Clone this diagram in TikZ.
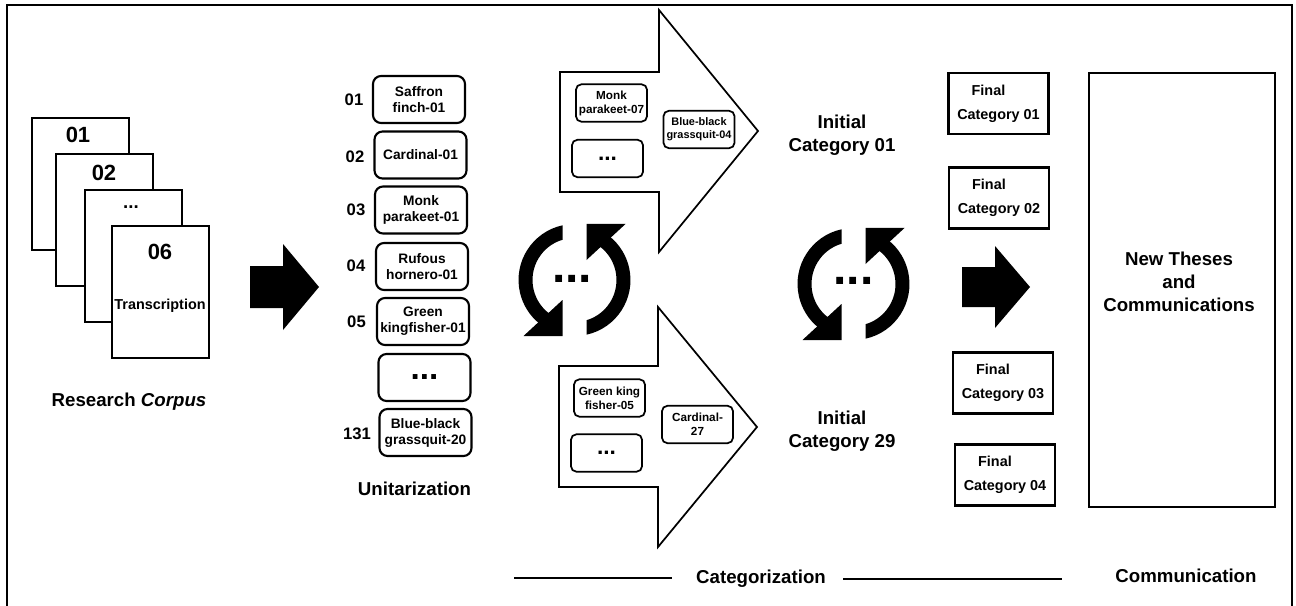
\documentclass[tikz,border=0pt]{standalone}
\usepackage{fontspec}
\setmainfont{Liberation Sans}
\usepackage{tikz}
\tikzstyle{frame} = [draw=black, line width=1.5pt]
\tikzstyle{doc} = [draw=black, fill=white, rectangle, line width=2pt, minimum width=72.75pt, minimum height=99pt]
\tikzstyle{docnum} = [font=\fontsize{16.5}{19}\selectfont\bfseries]
\tikzstyle{unit} = [align=center, draw=black, rectangle, rounded corners=6pt, line width=1.6pt, minimum width=69pt, minimum height=35.25pt, inner sep=1pt, font=\fontsize{10.3}{12}\selectfont\bfseries]
\tikzstyle{unitnum} = [font=\fontsize{12.5}{15}\selectfont\bfseries]
\tikzstyle{item} = [align=center, draw=black, fill=white, rectangle, rounded corners=4pt, line width=1.3pt, minimum width=53.25pt, minimum height=28pt, inner sep=1pt, font=\fontsize{8.8}{10.5}\selectfont\bfseries]
\tikzstyle{final} = [align=left, draw=black, rectangle, line width=1.7pt, minimum width=75pt, minimum height=45.75pt, font=\fontsize{10.8}{18}\selectfont\bfseries]
\tikzstyle{caption} = [align=center, font=\fontsize{14}{17.25}\selectfont\bfseries]
\tikzstyle{arrowbox} = [draw=black, fill=white, line width=1.3pt, line join=miter]
\tikzstyle{bigdots} = [inner sep=0pt, font=\fontsize{36}{36}\selectfont\bfseries]
\tikzstyle{rule} = [draw=black, line width=2pt]

\begin{document}
\begin{tikzpicture}[x=0.75pt, y=-0.75pt]
				\useasboundingbox (0,0) rectangle (1296,606);
				\draw [frame] (7,606) -- (7,5) -- (1292,5) -- (1292,606);
				% research corpus
				\node (d1) [doc] at (80.5,184) {};
				\node [docnum] at (78,135) {01};
				\node (d2) [doc] at (104.5,220) {};
				\node [docnum] at (104,173) {02};
				\node (d3) [doc] at (133.5,256) {};
				\node [docnum, font=\fontsize{14}{16}\selectfont\bfseries] at (131,207) {...};
				\node (d4) [doc] at (160.5,292) {};
				\node [docnum] at (160,252) {06};
				\node [font=\fontsize{10.8}{13}\selectfont\bfseries] at (160,306) {Transcription};
				\node (corpus) [caption] at (129,402) {Research \textit{Corpus}};
				\fill (250,266) -- (283,266) -- (283,244) -- (319,287) -- (283,330) -- (283,308) -- (250,308) -- cycle;
				% unitarization
				\node (u1) [unit] at (419,99.5) {Saffron\\finch-01};
				\node (u2) [unit] at (420.5,155) {Cardinal-01};
				\node (u3) [unit] at (421,210) {Monk\\parakeet-01};
				\node (u4) [unit] at (422,266.5) {Rufous\\hornero-01};
				\node (u5) [unit] at (423,321.5) {Green\\kingfisher-01};
				\node (u6) [unit, font=\fontsize{25}{25}\selectfont\bfseries] at (424.5,377.5) {...};
				\node (u7) [unit] at (425.5,432.5) {Blue-black\\grassquit-20};
				\node [unitnum] at (354,100) {01};
				\node [unitnum] at (355,157) {02};
				\node [unitnum] at (356,210) {03};
				\node [unitnum] at (356,266) {04};
				\node [unitnum] at (356.5,322) {05};
				\node [unitnum] at (357,434) {131};
				\node (unitar) [caption] at (414.5,489) {Unitarization};
				% cycle icons
				\begin{scope}[shift={(574.5,280)}, yscale=-1]
					\fill (-12,54.7) arc[start angle=102.4, end angle=231, radius=56] -- (233:42) arc[start angle=233, end angle=106.6, radius=42] -- cycle;
					\fill (-51,-56) -- (-12,-56) -- (-12,-20) -- cycle;
					\begin{scope}[rotate=180]
						\fill (-12,54.7) arc[start angle=102.4, end angle=231, radius=56] -- (233:42) arc[start angle=233, end angle=106.6, radius=42] -- cycle;
						\fill (-51,-56) -- (-12,-56) -- (-12,-20) -- cycle;
					\end{scope}
				\end{scope}
				\node (loopA) [bigdots] at (572,279) {...};
				\begin{scope}[shift={(853.5,284)}, yscale=-1]
					\fill (-12,54.7) arc[start angle=102.4, end angle=231, radius=56] -- (233:42) arc[start angle=233, end angle=106.6, radius=42] -- cycle;
					\fill (-51,-56) -- (-12,-56) -- (-12,-20) -- cycle;
					\begin{scope}[rotate=180]
						\fill (-12,54.7) arc[start angle=102.4, end angle=231, radius=56] -- (233:42) arc[start angle=233, end angle=106.6, radius=42] -- cycle;
						\fill (-51,-56) -- (-12,-56) -- (-12,-20) -- cycle;
					\end{scope}
				\end{scope}
				\node (loopB) [bigdots] at (853.5,281) {...};
				% initial categories
				\draw [arrowbox] (560,72) -- (659,72) -- (659,10) -- (758,131) -- (659,252) -- (659,192) -- (560,192) -- cycle;
				\node (m07) [item] at (611.5,103) {Monk\\parakeet-07};
				\node (ia) [item, font=\fontsize{17}{17}\selectfont\bfseries] at (607.5,158.5) {...};
				\node (bb04) [item, font=\fontsize{8.2}{10}\selectfont\bfseries] at (699,129.5) {Blue-black\\grassquit-04};
				\node (init1) [caption] at (842,135) {Initial\\Category 01};
				\draw [arrowbox] (559,366) -- (658,366) -- (658,307) -- (757,427) -- (658,547) -- (658,487) -- (559,487) -- cycle;
				\node (gk05) [item] at (609.5,398) {Green king\\fisher-05};
				\node (ib) [item, font=\fontsize{17}{17}\selectfont\bfseries] at (606.5,453) {...};
				\node (c27) [item, font=\fontsize{8.8}{10.5}\selectfont\bfseries] at (697.5,424.5) {Cardinal-\\27};
				\node (init29) [caption] at (842,431) {Initial\\Category 29};
				% final categories
				\node (f1) [final] at (998.5,103.5) {\hspace*{1em}Final\\Category 01};
				\node (f2) [final] at (999,198) {\hspace*{1em}Final\\Category 02};
				\node (f3) [final] at (1003,383) {\hspace*{1em}Final\\Category 03};
				\node (f4) [final] at (1005,475) {\hspace*{1em}Final\\Category 04};
				\fill (962,267) -- (995,267) -- (995,246) -- (1030,287) -- (995,328) -- (995,307) -- (962,307) -- cycle;
				% communication
				\node (theses) [draw=black, rectangle, line width=1.7pt, minimum width=139.5pt, minimum height=325.5pt] at (1182,290) {};
				\node (thesestxt) [caption] at (1179,282) {New Theses\\and\\Communications};
				% phases
				\coordinate (catA) at (514,578);
				\coordinate (catB) at (672,578);
				\coordinate (catC) at (843,579);
				\coordinate (catD) at (1062,579);
				\node (categ) [caption] at (761,579) {Categorization};
				\node (commun) [caption] at (1186,576) {Communication};
				\draw [rule] (catA) -- (catB);
				\draw [rule] (catC) -- (catD);
			\end{tikzpicture}
\end{document}
